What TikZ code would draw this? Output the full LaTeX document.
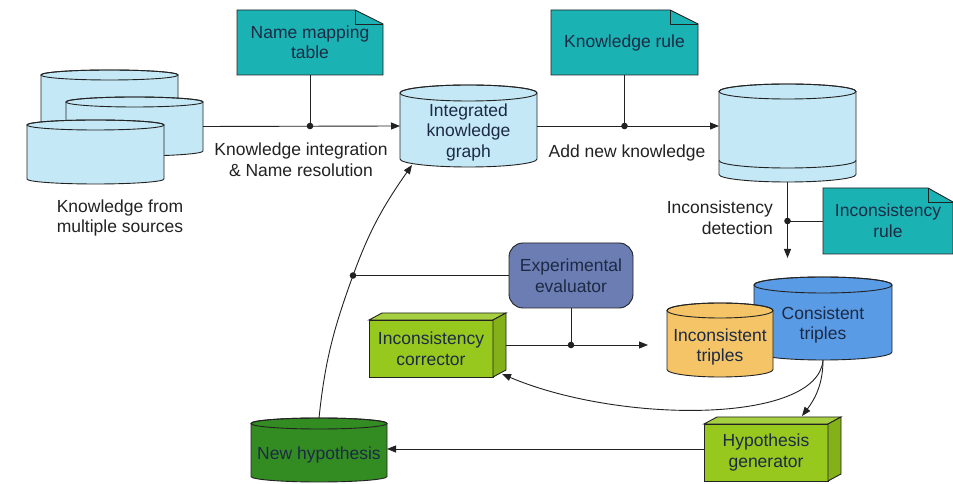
\documentclass[tikz,border=0pt]{standalone}
\usepackage{fontspec}
\setmainfont{Liberation Sans}
\usetikzlibrary{arrows.meta}
\definecolor{lblue}{HTML}{C4E8F6}
\definecolor{noteteal}{HTML}{1BB2B4}
\definecolor{evalblue}{HTML}{6C7DB4}
\definecolor{lime}{HTML}{96C81E}
\definecolor{dgreen}{HTML}{338C22}
\definecolor{cblue}{HTML}{5A9BE6}
\definecolor{orangey}{HTML}{F4C466}
\definecolor{inkc}{HTML}{222222}
\definecolor{navytext}{HTML}{1C2A44}
\tikzset{
  shapeline/.style={draw=inkc, line width=0.9pt},
  conn/.style={draw=inkc, line width=0.9pt},
  arr/.style={-{Triangle[length=9pt,width=7pt]}},
  lbl/.style={align=center, text=inkc, inner sep=0pt},
  intext/.style={align=center, text=navytext, inner sep=0pt},
  blank/.style={inner sep=0pt, outer sep=0pt},
}
\newcommand\dbcyl[7]{%
  \pgfmathsetmacro\cylcx{(#2+#3)/2}%
  \pgfmathsetmacro\cylrx{(#3-#2)/2}%
  \pgfmathsetmacro\cylyt{#4-#6}%
  \pgfmathsetmacro\cylyb{#5+#6}%
  \pgfmathsetmacro\cylcy{(#4+#5)/2}%
  \filldraw[shapeline, fill=#7] (#2,\cylyt) -- (#2,\cylyb) arc[start angle=180,end angle=360,x radius=\cylrx pt,y radius=#6pt] -- (#3,\cylyt) arc[start angle=0,end angle=180,x radius=\cylrx pt,y radius=#6pt] -- cycle;
  \draw[shapeline] (\cylcx,\cylyt) ellipse[x radius=\cylrx pt,y radius=#6pt];
  \node[blank, minimum width={(#3-#2)*1pt}, minimum height={(#4-#5)*1pt}] (#1) at (\cylcx,\cylcy) {};
}
\newcommand\notebox[7]{%
  \filldraw[shapeline, fill=noteteal] (#2,#5) -- (#2,#4) -- ({#3-#7},#4) -- (#3,{#4-14}) -- (#3,#5) -- cycle;
  \draw[shapeline] ({#3-#7},#4) -- ({#3-#7},{#4-14}) -- (#3,{#4-14});
  \node[intext, minimum width={(#3-#2)*1pt}, minimum height={(#4-#5)*1pt}] (#1) at ({(#2+#3)/2},{(#4+#5)/2}) {#6};
}
\newcommand\cubebox[7]{%
  \filldraw[shapeline, fill=#6] (#2,#5) rectangle (#3,#4);
  \filldraw[shapeline, fill=#6!85!white] (#2,#4) -- ({#2+13},{#4+7}) -- ({#3+13},{#4+7}) -- (#3,#4) -- cycle;
  \filldraw[shapeline, fill=#6!88!black] (#3,#4) -- ({#3+13},{#4+7}) -- ({#3+13},{#5+7}) -- (#3,#5) -- cycle;
  \node[blank, minimum width={(#3-#2+13)*1pt}, minimum height={(#4-#5+7)*1pt}] (#1) at ({(#2+#3+13)/2},{(#4+#5+7)/2}) {};
  \node[intext] (#1-t) at ({(#2+#3)/2},{(#4+#5)/2}) {#7};
}
\begin{document}
\begin{tikzpicture}[x=1pt,y=1pt, font=\fontsize{17.5}{20.5}\selectfont]
\useasboundingbox[fill=white] (0,0) rectangle (953,484);

% multiple sources
\dbcyl{ms1}{41}{178}{414}{344}{5}{lblue}
\dbcyl{ms2}{66}{203}{387}{328}{5}{lblue}
\dbcyl{ms3}{27}{164}{364}{300}{5}{lblue}
\node[lbl] (mslbl) at (120,266) {Knowledge from\\multiple sources};

% notes
\notebox{nmt}{237}{383}{474}{409}{Name mapping\\table}{28}
\notebox{kr}{551}{698}{474}{409}{Knowledge rule}{28}
\notebox{ir}{823}{953}{296}{230}{Inconsistency\\rule}{25}

% integrated knowledge graph
\dbcyl{ikg}{400}{537}{399}{317}{8}{lblue}
\node[intext] (ikg-t) at (468.5,352) {Integrated\\knowledge\\graph};

% new knowledge store
\dbcyl{nk}{719}{856}{400}{302}{7.5}{lblue}
\draw[shapeline] (719,323.5) arc[start angle=180,end angle=360,x radius=68.5pt,y radius=7.5pt];

% triples
\dbcyl{ct}{754}{892}{207}{124}{8}{cblue}
\node[intext] (ct-t) at (823,159) {Consistent\\triples};
\dbcyl{it}{667}{773}{181}{107}{7.5}{orangey}
\node[intext] (it-t) at (720,137) {Inconsistent\\triples};

% evaluator
\node[shapeline, fill=evalblue, rounded corners=14pt, minimum width=124pt, minimum height=65pt, intext] (ee) at (571,208.5) {Experimental\\evaluator};

% boxes
\cubebox{ic}{369}{493}{164}{107}{lime}{Inconsistency\\corrector}
\cubebox{hg}{704}{828}{60}{3}{lime}{Hypothesis\\generator}

% new hypothesis
\dbcyl{nh}{251}{387}{66}{2}{5.5}{dgreen}
\node[intext] (nh-t) at (319,29) {New hypothesis};

% labels
\node[lbl] (l1) at (301,324) {Knowledge integration\\\& Name resolution};
\node[lbl] (l2) at (627,331) {Add new knowledge};
\node[lbl, align=right, anchor=east] (l3) at (773,266.5) {Inconsistency\\detection};

% coordinates
\coordinate (dot1) at (nmt.south |- ikg.west);
\coordinate (dot2) at (kr.south |- ikg.east);
\coordinate (dettip) at (787.5,226);
\coordinate (dot3) at (787.5,263);
\coordinate (dotA) at (353,208.5);
\coordinate (ikgtip) at (412,319);
\coordinate (ictip) at (648,139);
\coordinate (hgtip) at (802,68);
\coordinate (ictip2) at (502,110);

% connectors
\draw[conn, arr] (ms2.east) -- (ikg.west);
\draw[conn] (nmt.south) -- (dot1);
\draw[conn, arr] (ikg.east) -- (ikg.east -| nk.west);
\draw[conn] (kr.south) -- (dot2);
\draw[conn, arr] (nk.south) -- (dettip);
\draw[conn] (ir.west) -- (dot3);
\draw[conn, arr] (nh.north) to[out=84,in=250] (dotA) to[out=70,in=235] (ikgtip);
\draw[conn] (ee.west) -- (dotA);
\draw[conn, arr] (ic.east) -- (ictip);
\draw[conn] (ee.south) -- (ee.south |- ic.east);
\draw[conn, arr] (ct.south) .. controls (823,100) and (815,85) .. (hgtip);
\draw[conn, arr] (ct.south) .. controls (818,60) and (620,60) .. (ictip2);
\draw[conn, arr] (hg.west) -- (hg.west -| nh.east);

% dots
\fill[inkc] (dot1) circle[radius=3.3pt];
\fill[inkc] (dot2) circle[radius=3.3pt];
\fill[inkc] (dot3) circle[radius=3.3pt];
\fill[inkc] (dotA) circle[radius=3.3pt];
\fill[inkc] (ee.south |- ic.east) circle[radius=3.3pt];
\end{tikzpicture}
\end{document}
